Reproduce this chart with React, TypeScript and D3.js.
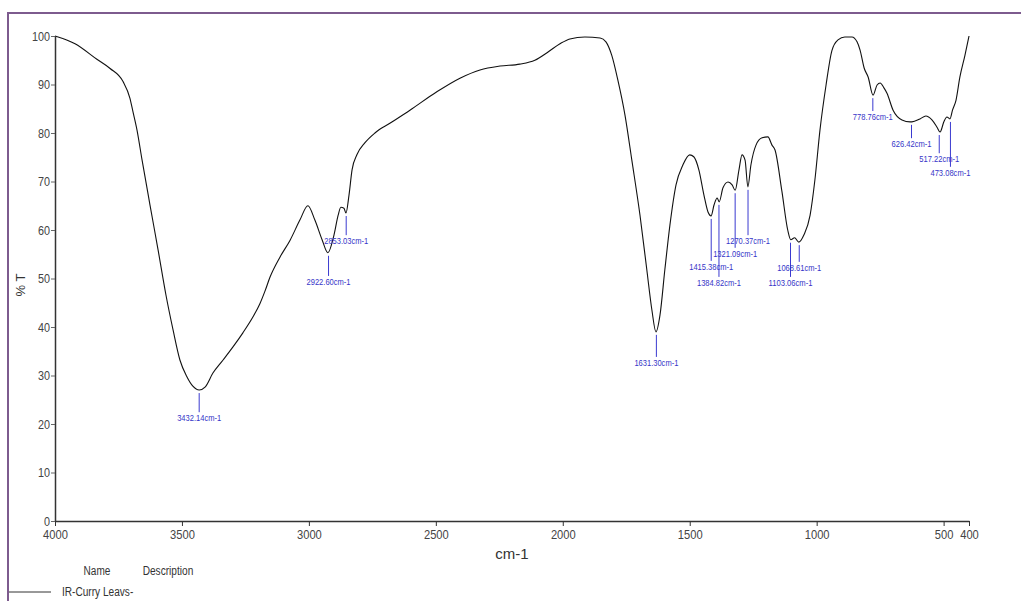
import React, { useRef, useEffect } from 'react'
import * as d3 from 'd3'

// spectrum trace: wavenumber (cm-1) and %T
const wavenumbers = [
  4000, 3921, 3835, 3783, 3732, 3705, 3693, 3677, 3657, 3626, 3594, 3563, 3535, 3508, 3480, 3457,
  3432, 3409, 3378, 3338, 3299, 3260, 3220, 3193, 3173, 3153, 3114, 3074, 3035, 3004, 2976, 2948,
  2925, 2901, 2885, 2874, 2862, 2854, 2842, 2830, 2811, 2779, 2740, 2681, 2602, 2496, 2405, 2326,
  2247, 2169, 2110, 2058, 2011, 1972, 1913, 1853, 1830, 1807, 1783, 1755, 1728, 1696, 1669, 1649,
  1633, 1617, 1598, 1578, 1554, 1527, 1500, 1484, 1464, 1444, 1428, 1416, 1404, 1392, 1384, 1369,
  1349, 1333, 1321, 1306, 1294, 1282, 1271, 1259, 1239, 1215, 1192, 1176, 1164, 1137, 1114, 1102,
  1087, 1070, 1050, 1026, 1007, 987, 963, 940, 916, 889, 861, 841, 829, 813, 797, 778,
  762, 750, 735, 723, 699, 664, 632, 625, 593, 570, 546, 526, 514, 499, 487, 475,
  465, 451, 436, 416, 400,
]
const transmittance = [
  100, 98.4, 95.2, 93.3, 90.6, 87.2, 84.4, 80.6, 74.4, 65.2, 55.9, 46.6, 39.4, 33.2, 29.7, 27.8,
  27, 27.6, 30.5, 33.2, 35.9, 38.8, 42.1, 44.8, 47.4, 50.3, 54.4, 57.9, 62.1, 65, 62, 58,
  55.3, 59, 63, 64.7, 64.5, 63.5, 67.2, 72.4, 75.5, 78, 80, 82, 84.7, 88.5, 91.3, 93,
  93.8, 94.2, 95, 96.7, 98.4, 99.4, 99.8, 99.6, 98.8, 96, 90.9, 83.7, 74.4, 63.1, 51.8, 43.5,
  39, 42.5, 51.8, 61, 69.3, 73.4, 75.5, 75.1, 72.4, 67.2, 63.7, 62.9, 65.2, 66.6, 65.8, 68.7,
  69.9, 69.3, 68.2, 72.4, 75.5, 74.4, 68.9, 73.4, 77.5, 79, 79.2, 77.5, 76.5, 68, 60, 58,
  58.4, 57.5, 59, 63, 70.3, 80.6, 89.9, 97, 99.2, 99.8, 99.8, 98.8, 97.1, 93.4, 91.5, 87.8,
  89.9, 90.3, 89.3, 88.2, 84.7, 82.7, 82.3, 82.3, 82.9, 83.5, 82.7, 81.2, 80.2, 82.3, 83.3, 82.9,
  84.7, 86.8, 91.5, 96, 100,
]

// annotated peaks
const peakWavenumbers = [3432.14, 2922.6, 2853.03, 1631.3, 1415.38, 1384.82, 1321.09, 1270.37, 1103.06, 1068.61, 778.76, 626.42, 517.22, 473.08]
const peakTransmittance = [27, 55.3, 63.5, 39, 62.9, 65.8, 68.2, 68.9, 58, 57.5, 87.8, 82.3, 80.2, 82.9]

const xTicks = [4000, 3500, 3000, 2500, 2000, 1500, 1000, 500, 400]
const yTicks = [0, 10, 20, 30, 40, 50, 60, 70, 80, 90, 100]

const seriesName = 'IR-Curry Leavs-'

const font = "'Liberation Sans', Arial, sans-serif"

// squeeze text to look like the narrow font of the original
function narrowText(sel: any, perChar: number) {
  sel.attr('textLength', function (this: SVGTextElement) { return (this.textContent || '').length * perChar })
    .attr('lengthAdjust', 'spacingAndGlyphs')
}

export default function App() {
  const svgRef = useRef<SVGSVGElement>(null)

  useEffect(() => {
    const svg = d3.select(svgRef.current)
    svg.selectAll('*').remove()

    const x = d3.scaleLinear().domain([4000, 400]).range([55, 969])
    const y = d3.scaleLinear().domain([0, 100]).range([521, 36])

    // frame
    svg.append('path')
      .attr('d', 'M8,700 L8,13 L1030,13')
      .attr('fill', 'none')
      .attr('stroke', '#7d5b8e')
      .attr('stroke-width', 2)

    const xAxis = d3.axisBottom(x).tickValues(xTicks).tickFormat(d3.format('d')).tickSizeInner(5).tickSizeOuter(0).tickPadding(4)
    const gx = svg.append('g').attr('transform', 'translate(0,521)').call(xAxis)
    gx.select('.domain').attr('stroke', '#333').attr('stroke-width', 1.5)
    gx.selectAll('line').attr('stroke', '#333')
    gx.selectAll('text').attr('font-family', font).attr('font-size', 13).attr('fill', '#444')
    narrowText(gx.selectAll('text'), 6.2)

    const yAxis = d3.axisLeft(y).tickValues(yTicks).tickSizeInner(4).tickSizeOuter(0).tickPadding(1)
    const gy = svg.append('g').attr('transform', 'translate(55,0)').call(yAxis)
    gy.select('.domain').attr('stroke', '#333').attr('stroke-width', 1.5)
    gy.selectAll('line').attr('stroke', '#666')
    gy.selectAll('text').attr('font-family', font).attr('font-size', 12.5).attr('fill', '#444')
    narrowText(gy.selectAll('text'), 6)

    // axis titles
    svg.append('text').attr('x', 512).attr('y', 559).attr('text-anchor', 'middle')
      .attr('font-family', font).attr('font-size', 15).attr('fill', '#333')
      .text('cm-1')
    svg.append('text').attr('transform', 'translate(25,285) rotate(-90)').attr('text-anchor', 'middle')
      .attr('font-family', font).attr('font-size', 13).attr('fill', '#333')
      .text('% T')

    // spectrum
    const pts = wavenumbers.map((w, i) => [w, transmittance[i]] as [number, number])
    const line = d3.line<[number, number]>()
      .x(d => x(d[0]))
      .y(d => y(d[1]))
      .curve(d3.curveMonotoneX)
    svg.append('path')
      .datum(pts)
      .attr('d', line)
      .attr('fill', 'none')
      .attr('stroke', '#111')
      .attr('stroke-width', 1.1)

    // peak labels, dropped below the dip (in %T)
    const drops = [5.6, 5.8, 5.6, 6.2, 10.3, 16.5, 12.9, 11, 8.7, 5.1, 4.3, 4.4, 5.4, 10.9]
    const ann = svg.append('g')
    peakWavenumbers.forEach((w, i) => {
      const px = x(w)
      const top = y(peakTransmittance[i]) + 3
      const base = y(peakTransmittance[i] - drops[i]) + 4
      ann.append('line').attr('x1', px).attr('x2', px).attr('y1', top).attr('y2', base - 9)
        .attr('stroke', '#3a3ad0').attr('stroke-width', 1)
      const t = ann.append('text').attr('x', px).attr('y', base).attr('text-anchor', 'middle')
        .attr('font-family', font).attr('font-size', 8.5).attr('fill', '#3535c8')
        .text(`${w.toFixed(2)}cm-1`)
      narrowText(t, 4)
    })

    // legend
    const nm = svg.append('text').attr('x', 97).attr('y', 575).attr('text-anchor', 'middle')
      .attr('font-family', font).attr('font-size', 12).attr('fill', '#333').text('Name')
    narrowText(nm, 6.7)
    const ds = svg.append('text').attr('x', 168).attr('y', 575).attr('text-anchor', 'middle')
      .attr('font-family', font).attr('font-size', 12).attr('fill', '#333').text('Description')
    narrowText(ds, 4.6)
    svg.append('line').attr('x1', 9).attr('x2', 51).attr('y1', 592).attr('y2', 592)
      .attr('stroke', '#333').attr('stroke-width', 1)
    const sn = svg.append('text').attr('x', 62).attr('y', 596)
      .attr('font-family', font).attr('font-size', 12).attr('fill', '#333').text(seriesName)
    narrowText(sn, 4.75)
  }, [])

  return (
    <svg ref={svgRef} width={1021} height={601}
      style={{ position: 'absolute', left: 0, top: 0, background: '#fff' }} />
  )
}
